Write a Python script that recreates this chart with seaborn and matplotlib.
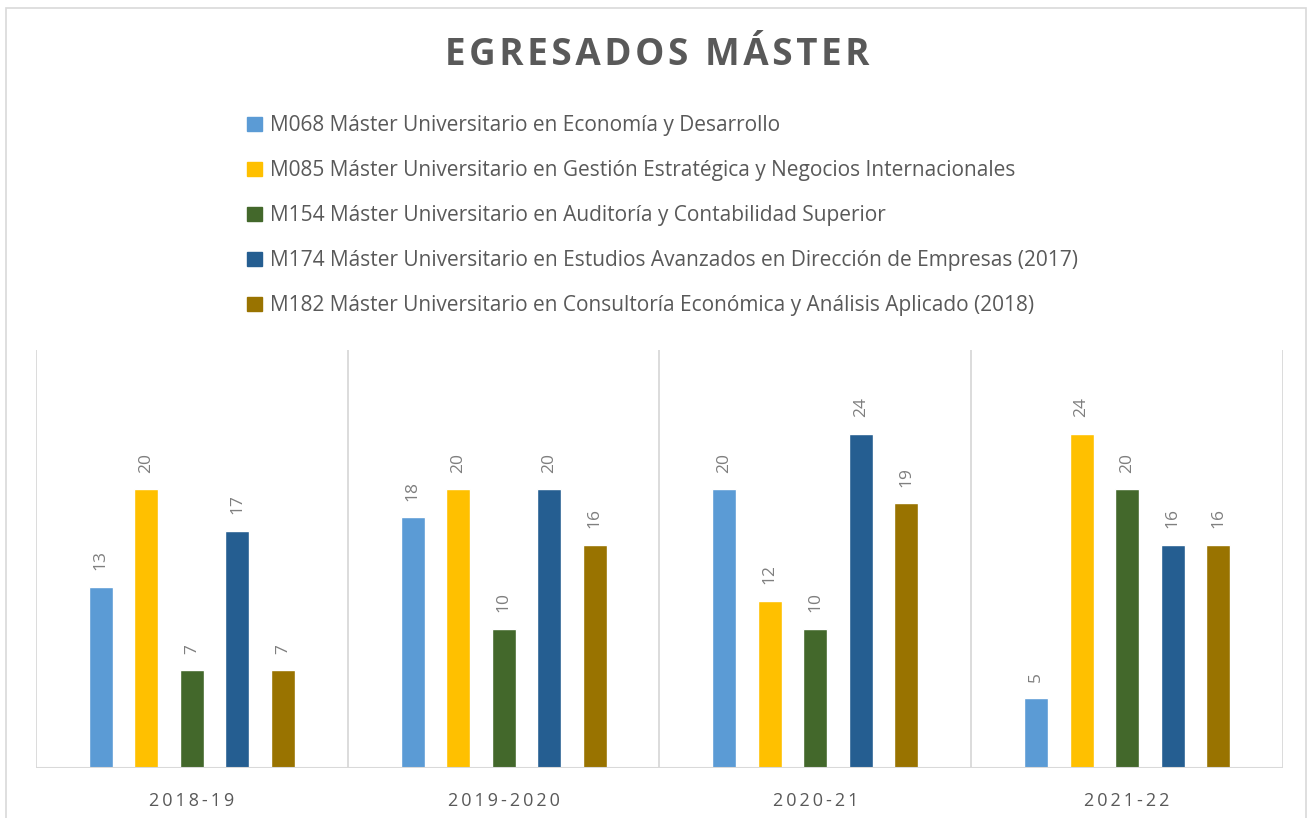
import matplotlib
matplotlib.use('Agg')
import matplotlib.pyplot as plt
import matplotlib.patches as mpatches
import pandas as pd
import seaborn as sns

# Data
years = ['2018-19', '2019-2020', '2020-21', '2021-22']
programs = ['M068 Máster Universitario en Economía y Desarrollo',
            'M085 Máster Universitario en Gestión Estratégica y Negocios Internacionales',
            'M154 Máster Universitario en Auditoría y Contabilidad Superior',
            'M174 Máster Universitario en Estudios Avanzados en Dirección de Empresas (2017)',
            'M182 Máster Universitario en Consultoría Económica y Análisis Aplicado (2018)']
m068 = [13, 18, 20, 5]
m085 = [20, 20, 12, 24]
m154 = [7, 10, 10, 20]
m174 = [17, 20, 24, 16]
m182 = [7, 16, 19, 16]
colors = ['#5B9BD5', '#FFC000', '#43682B', '#255E91', '#997300']

rows = []
for prog, vals in zip(programs, [m068, m085, m154, m174, m182]):
    for yr, v in zip(years, vals):
        rows.append({'year': yr, 'program': prog, 'value': v})
df = pd.DataFrame(rows)

sns.set_style('white')
plt.rcParams['font.family'] = ['Open Sans', 'DejaVu Sans']

fig = plt.figure(figsize=(13.14, 8.18), dpi=100)
ax = fig.add_axes([0.0274, 0.0611, 0.949, 0.511])

sns.barplot(data=df, x='year', y='value', hue='program', order=years,
            hue_order=programs, palette=colors, width=0.73, gap=0.47,
            saturation=1, ax=ax, legend=False)

# data labels
for cont in ax.containers:
    ax.bar_label(cont, labels=[str(int(v)) for v in cont.datavalues],
                 rotation=90, padding=12, color='#7F7F7F', fontsize=12.5)

ax.set_ylim(0, 30)
ax.set_xlim(-0.5, len(years) - 0.5)
for x in [i - 0.5 for i in range(len(years) + 1)]:
    ax.axvline(x, color='#D9D9D9', lw=1.3, zorder=0)
ax.axhline(0, color='#D9D9D9', lw=1.5, zorder=3)
for s in ax.spines.values():
    s.set_visible(False)
ax.set_yticks([])
ax.set_xlabel('')
ax.set_ylabel('')
ax.tick_params(axis='x', length=0, pad=17)
ax.set_xticks(range(len(years)))
ax.set_xticklabels(['\u2009'.join(list(y)) for y in years], fontsize=13, color='#595959')

title = 'EGRESADOS MÁSTER'
fig.text(0.5, 0.933, '\u200a'.join(list(title)),
         ha='center', va='center', fontsize=26.5, fontweight='bold', color='#595959')

handles = [mpatches.Patch(color=c) for c in colors]
fig.legend(handles, programs, loc='upper left', bbox_to_anchor=(0.174, 0.882),
           frameon=False, fontsize=15, labelcolor='#595959', handlelength=0.68,
           handleheight=0.68, handletextpad=0.4, labelspacing=1.15)

# outer chart frame
fig.patches.append(mpatches.Rectangle((6 / 1314, -0.05), 1300 / 1314, 1.05 - 8 / 818,
                                      transform=fig.transFigure, fill=False,
                                      edgecolor='#D9D9D9', lw=1.2))

fig.savefig('out.png', dpi=100)
